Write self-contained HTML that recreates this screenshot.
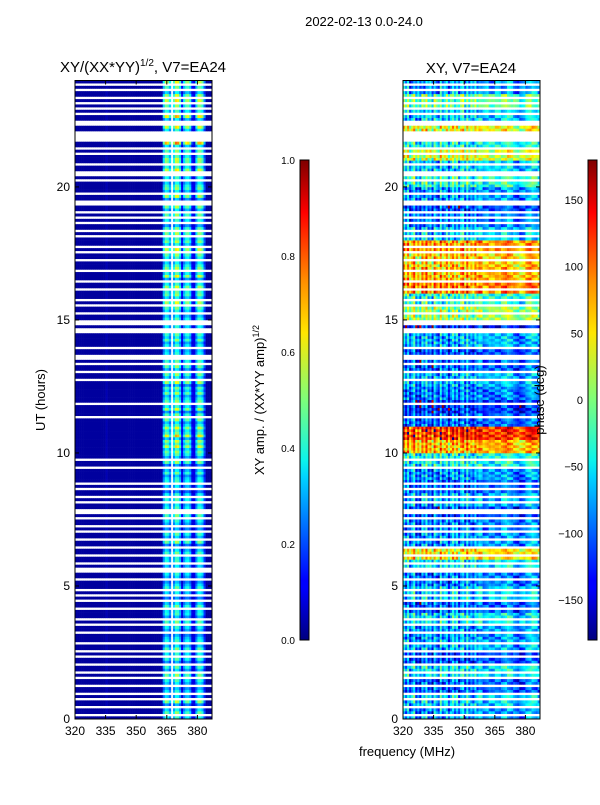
<!DOCTYPE html>
<html><head><meta charset="utf-8"><style>
body{margin:0;background:#fff;font-family:"Liberation Sans",sans-serif}
svg text{font-family:"Liberation Sans",sans-serif;fill:#000}
</style></head><body>
<svg id="fig" width="600" height="800" viewBox="0 0 600 800" xmlns="http://www.w3.org/2000/svg">
<defs>
<linearGradient id="jet" x1="0" y1="1" x2="0" y2="0">
<stop offset="0" stop-color="#00007f"/><stop offset="0.11" stop-color="#0000ff"/><stop offset="0.125" stop-color="#0000ff"/>
<stop offset="0.34" stop-color="#00d4ff"/><stop offset="0.375" stop-color="#0cf4eb"/><stop offset="0.5" stop-color="#7dff7a"/>
<stop offset="0.64" stop-color="#ffe600"/><stop offset="0.75" stop-color="#ff8c00"/><stop offset="0.89" stop-color="#ff0000"/><stop offset="1" stop-color="#7f0000"/>
</linearGradient>
</defs>
<text x="364" y="26" font-size="13" text-anchor="middle">2022-02-13 0.0-24.0</text>
<text x="143" y="72" font-size="15" text-anchor="middle">XY/(XX*YY)<tspan font-size="10" dy="-6">1/2</tspan><tspan dy="6">, V7=EA24</tspan></text>
<text x="471" y="73" font-size="15" text-anchor="middle">XY, V7=EA24</text>
<g id="ampHeat"></g>
<g id="phHeat"></g>
<rect x="75" y="80.5" width="137" height="638.5" fill="none" stroke="#000" stroke-width="1"/>
<rect x="403" y="80.5" width="137" height="638.5" fill="none" stroke="#000" stroke-width="1"/>
<g id="axes"></g>
<text transform="translate(45,400) rotate(-90)" font-size="13" text-anchor="middle">UT (hours)</text>
<text x="407" y="756" font-size="13" text-anchor="middle">frequency (MHz)</text>
<rect x="300" y="160" width="9" height="480" fill="url(#jet)" stroke="#000" stroke-width="1"/>
<rect x="588" y="160" width="9" height="480" fill="url(#jet)" stroke="#000" stroke-width="1"/>
<text transform="translate(264,400) rotate(-90)" font-size="13" text-anchor="middle">XY amp. / (XX*YY amp)<tspan font-size="9" dy="-5">1/2</tspan></text>
<text transform="translate(544,400) rotate(-90)" font-size="13" text-anchor="middle">phase (deg)</text>
</svg>
<script>
const flagRows = ["1011011010","1101101011","0110101101","1101101011","1011010101","1101100101","1011011011","0101101001","1010110101","1111011011","1111111111","1110111101","1111111011","0110100110","1111100100","1101101011","1011011101","1101101011","1010110101","0110011011","1101001101","1101011000","0110011010","1010110101"];
const ampChan = [0.03,0.03,0.03,0.03,0.03,0.03,0.03,0.03,0.03,0.03,0.03,0.03,0.03,0.03,0.03,0.05,0.03,0.03,0.03,0.03,0.03,0.03,0.03,0.03,0.03,0.03,0.03,0.03,0.03,0.03,0.03,0.03,0.03,0.03,0.03,0.03,0.03,0.03,0.03,0.03,0.03,0.03,0.04,0.3,0.45,0.42,0.3,null,0.35,0.5,0.48,0.35,0.12,0.3,0.4,0.42,0.32,0.12,0.1,0.3,0.45,0.45,0.38,0.2,0.03,0.03,0.03];
const rowGain = [0.9,0.85,0.8,0.8,0.85,0.8,0.85,0.8,0.8,0.85,1.1,0.95,0.95,0.9,0.9,0.95,1.0,1.0,0.95,0.95,1.0,1.2,1.1,1.1];
const rowVar = [1.0,0.8,1.2,0.9,1.1,0.7,1.3,0.95,0.85,1.15];
const phaseRow = [-90,-70,-110,-60,-120,-80,-90,-60,-110,-70,-100,-60,40,-90,-100,-120,-80,-110,-90,-50,60,110,-110,-130,-100,-80,-110,-120,-80,-140,0,-40,80,60,50,70,-70,-100,-120,-90,-40,-70,20,-50,30,-70,-20,-90];
const phaseChan = [30,-20,40,-30,10,50,-30,10,-40,30,-10,50,-10,20,-40,40,0,-30,50,-20,10,30,-40,10,40,-10,30,-30,20,40,-20,50,-10,10,-20,30,0,30,20,-10,0,10,10,0,5,10,10,0,10,20,30,30,20,10,0,-10,-20,-20,-10,0,10,20,30,30,20,10,0];
const phaseJit = [0,20,-15,30,-25,10,-35,25,-5,30,-20,5,15];

const NS="http://www.w3.org/2000/svg";
const yTop=80.5, yBot=719, hrs=24;
function yS(h){return yBot-(h/hrs)*(yBot-yTop);}
function xS(f,x0){return x0+(f-320)*2.04;}
function jet(v){v=Math.max(0,Math.min(1,v));
 const c=t=>Math.max(0,Math.min(1,1.5-Math.abs(4*v-t)));
 return `rgb(${Math.round(255*c(3))},${Math.round(255*c(2))},${Math.round(255*c(1))})`;}
function mk(tag,a,parent){const e=document.createElementNS(NS,tag);for(const k in a)e.setAttribute(k,a[k]);parent.appendChild(e);return e;}
const ampG=document.getElementById('ampHeat'), phG=document.getElementById('phHeat');
for(let hr=0;hr<24;hr++){for(let s=0;s<10;s++){
 if(flagRows[hr][s]!=='1')continue;
 const h0=hr+s/10, y1=yS(h0+0.1), y0=yS(h0), hgt=y0-y1+0.3, ri=hr*10+s;
 for(let c=0;c<ampChan.length;c++){
  const f=320+c, x=xS(f,75), w=2.04+0.3;
  if(ampChan[c]!==null){
   let a=ampChan[c]; if(a>0.1)a=a*rowGain[hr]*rowVar[ri%10];
   const r=mk('rect',{x:x.toFixed(2),y:y1.toFixed(2),width:w.toFixed(2),height:hgt.toFixed(2),fill:jet(a)},ampG);
   
   
  }
  let p=phaseRow[Math.floor(h0*2)]+phaseChan[c]+phaseJit[(ri+Math.floor(c/3))%13];
  p=((p+180)%360+360)%360-180;
  const r2=mk('rect',{x:xS(f,403).toFixed(2),y:y1.toFixed(2),width:w.toFixed(2),height:hgt.toFixed(2),fill:jet((p+180)/360)},phG);
  
  
 }}}
[ampG,phG].forEach((g,i)=>{const x0=i?403:75;const cp=mk('clipPath',{id:'cp'+i},document.querySelector('defs'));mk('rect',{x:x0,y:yTop,width:137,height:yBot-yTop},cp);g.setAttribute('clip-path',`url(#cp${i})`);});
const ax=document.getElementById('axes');
const yTicks=[0,5,10,15,20], xTicks=[320,335,350,365,380];
const ampTicks=[0.0,0.2,0.4,0.6,0.8,1.0], phTicks=[-150,-100,-50,0,50,100,150];
[75,403].forEach(x0=>{
 yTicks.forEach(t=>{const y=yS(t);
  mk('line',{x1:x0,y1:y,x2:x0+4,y2:y,stroke:'#000'},ax);mk('line',{x1:x0+137,y1:y,x2:x0+133,y2:y,stroke:'#000'},ax);
  const tx=mk('text',{x:x0-5,y:y+4,'font-size':12,'text-anchor':'end'},ax);tx.textContent=t;
  
  });
 xTicks.forEach(t=>{const x=xS(t,x0);
  mk('line',{x1:x,y1:yBot,x2:x,y2:yBot-4,stroke:'#000'},ax);mk('line',{x1:x,y1:yTop,x2:x,y2:yTop+4,stroke:'#000'},ax);
  const tx=mk('text',{x:x,y:735,'font-size':12,'text-anchor':'middle'},ax);tx.textContent=t;
  
  });
});
ampTicks.forEach(t=>{const y=640-t*480;
 mk('line',{x1:300,y1:y,x2:303,y2:y,stroke:'#000'},ax);
 const tx=mk('text',{x:295,y:y+4,'font-size':10,'text-anchor':'end'},ax);tx.textContent=t.toFixed(1);
 
 });
phTicks.forEach(t=>{const y=640-(t+180)/360*480;
 mk('line',{x1:597,y1:y,x2:594,y2:y,stroke:'#000'},ax);
 const tx=mk('text',{x:583,y:y+4,'font-size':11,'text-anchor':'end'},ax);tx.textContent=t<0?'\u2212'+(-t):t;
 
 });
</script>
</body></html>
